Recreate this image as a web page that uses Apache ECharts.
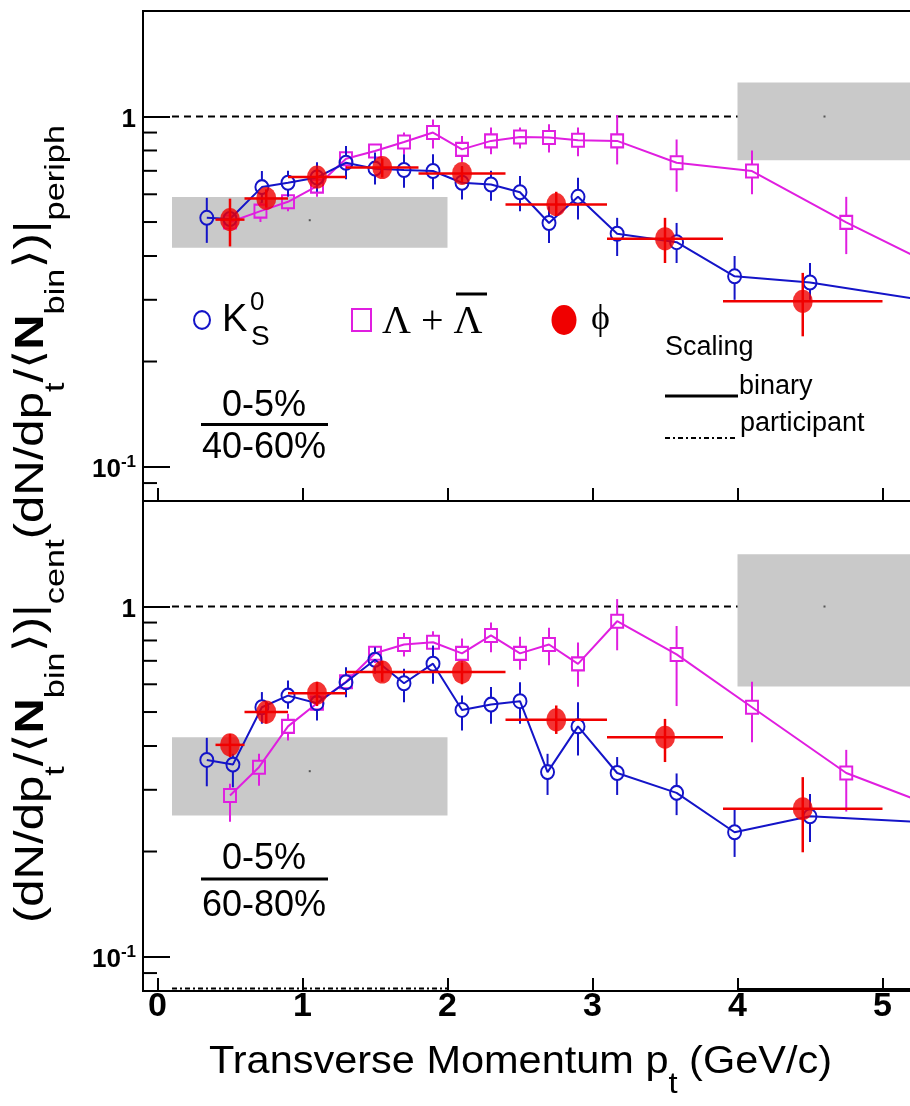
<!DOCTYPE html>
<html><head><meta charset="utf-8">
<script src="https://cdn.jsdelivr.net/npm/echarts@6/dist/echarts.min.js"></script>
<style>html,body{margin:0;padding:0;background:#fff}#c{width:910px;height:1106px}</style>
</head><body><div id="c"></div>
<script>
// ---------------- data ----------------
const xTickValues = [0, 1, 2, 3, 4, 5];
const xTickLabels = ['0', '1', '2', '3', '4', '5'];
const yMajorValues = [0.1, 1];
const yMajorLabels = [['10', '-1'], ['1', '']];
const yMinorTickValues = [0.09, 0.2, 0.3, 0.4, 0.5, 0.6, 0.7, 0.8, 0.9];

// top panel: 0-5% / 40-60%
const k0sTopPt = [0.34, 0.5, 0.72, 0.9, 1.1, 1.3, 1.5, 1.7, 1.9, 2.1, 2.3, 2.5, 2.7, 2.9, 3.17, 3.58, 3.98, 4.5, 5.5];
const k0sTopR  = [0.514, 0.51, 0.629, 0.647, 0.67, 0.738, 0.71, 0.704, 0.699, 0.647, 0.640, 0.608, 0.497, 0.590, 0.463, 0.438, 0.350, 0.336, 0.29];
const k0sTopLo = [0.436, 0.45, 0.567, 0.59, 0.61, 0.662, 0.64, 0.626, 0.62, 0.58, 0.575, 0.537, 0.436, 0.508, 0.40, 0.382, 0.30, 0.30, 0.26];
const k0sTopHi = [0.586, 0.58, 0.699, 0.70, 0.74, 0.824, 0.79, 0.78, 0.78, 0.722, 0.70, 0.676, 0.555, 0.669, 0.514, 0.497, 0.40, 0.382, 0.32];

const lamTopPt = [0.5, 0.71, 0.9, 1.1, 1.3, 1.5, 1.7, 1.9, 2.1, 2.3, 2.5, 2.7, 2.9, 3.17, 3.58, 4.1, 4.75, 5.5];
const lamTopR  = [0.50, 0.537, 0.571, 0.633, 0.758, 0.797, 0.846, 0.900, 0.806, 0.852, 0.874, 0.871, 0.856, 0.852, 0.738, 0.699, 0.499, 0.35];
const lamTopLo = [0.43, 0.50, 0.537, 0.59, 0.70, 0.74, 0.78, 0.81, 0.74, 0.78, 0.81, 0.79, 0.77, 0.73, 0.61, 0.60, 0.405, 0.28];
const lamTopHi = [0.56, 0.57, 0.60, 0.66, 0.82, 0.83, 0.90, 0.98, 0.88, 0.93, 0.93, 0.95, 0.93, 1.01, 0.86, 0.80, 0.59, 0.43];

const phiPt   = [0.5, 0.75, 1.1, 1.55, 2.1, 2.75, 3.5, 4.45];
const phiPtLo = [0.4, 0.6, 0.9, 1.3, 1.8, 2.4, 3.1, 3.9];
const phiPtHi = [0.6, 0.9, 1.3, 1.8, 2.4, 3.1, 3.9, 5.0];
const phiTopR  = [0.508, 0.584, 0.672, 0.715, 0.688, 0.561, 0.448, 0.297];
const phiTopLo = [0.426, 0.55, 0.64, 0.67, 0.65, 0.52, 0.382, 0.236];
const phiTopHi = [0.583, 0.62, 0.71, 0.76, 0.72, 0.61, 0.514, 0.358];

// bottom panel: 0-5% / 60-80%
const k0sBotPt = [0.34, 0.52, 0.72, 0.9, 1.1, 1.3, 1.5, 1.7, 1.9, 2.1, 2.3, 2.5, 2.69, 2.9, 3.17, 3.58, 3.98, 4.5, 5.5];
const k0sBotR  = [0.365, 0.354, 0.516, 0.557, 0.530, 0.608, 0.705, 0.604, 0.687, 0.507, 0.525, 0.537, 0.337, 0.455, 0.335, 0.294, 0.227, 0.252, 0.24];
const k0sBotLo = [0.307, 0.305, 0.463, 0.511, 0.473, 0.551, 0.643, 0.533, 0.602, 0.443, 0.463, 0.463, 0.29, 0.376, 0.29, 0.254, 0.193, 0.213, 0.21];
const k0sBotHi = [0.422, 0.38, 0.570, 0.615, 0.576, 0.671, 0.765, 0.664, 0.774, 0.557, 0.589, 0.608, 0.38, 0.533, 0.372, 0.334, 0.265, 0.292, 0.28];

const lamBotPt = [0.5, 0.7, 0.9, 1.1, 1.3, 1.5, 1.7, 1.9, 2.1, 2.3, 2.5, 2.7, 2.9, 3.17, 3.58, 4.1, 4.75, 5.5];
const lamBotR  = [0.289, 0.348, 0.455, 0.53, 0.61, 0.736, 0.779, 0.791, 0.735, 0.827, 0.735, 0.779, 0.686, 0.908, 0.730, 0.516, 0.335, 0.255];
const lamBotLo = [0.243, 0.308, 0.415, 0.49, 0.56, 0.69, 0.72, 0.73, 0.66, 0.74, 0.66, 0.68, 0.59, 0.75, 0.52, 0.41, 0.26, 0.21];
const lamBotHi = [0.312, 0.38, 0.494, 0.58, 0.66, 0.77, 0.84, 0.85, 0.81, 0.90, 0.82, 0.87, 0.79, 1.05, 0.88, 0.61, 0.39, 0.30];

const phiBotR  = [0.403, 0.50, 0.566, 0.650, 0.650, 0.475, 0.424, 0.265];
const phiBotLo = [0.372, 0.463, 0.52, 0.61, 0.60, 0.433, 0.36, 0.199];
const phiBotHi = [0.433, 0.533, 0.61, 0.70, 0.69, 0.522, 0.478, 0.326];

// scaling expectation boxes: [ptLow, ptHigh, ratioLow, ratioHigh, ratioCentre]
const scalingBoxTop = [[0.1, 2.0, 0.422, 0.589, 0.506], [4.0, 5.2, 0.75, 1.25, 1.0]];
const scalingBoxBot = [[0.1, 2.0, 0.2535, 0.424, 0.339], [4.0, 5.2, 0.591, 1.41, 1.0]];
// scaling marks along the bottom axis of lower panel: [ptLow, ptHigh, kind(0 participant,1 binary)]
const scalingMarksBot = [[0.1, 2.0, 0], [4.0, 5.5, 1]];
const unityLine = [[0.1, 5.5, 1]];

// ---------------- styling ----------------
const BLUE = '#1414c8', MAG = '#e01ee0', RED = '#f00000', GREY = '#c9c9c9';
const SANS = '"Liberation Sans", Arial, sans-serif';
const SERIF = '"Liberation Serif", "DejaVu Serif", serif';
const X_MIN = -0.1, X_MAX = 5.5, PX_UNIT = 145, GRID_LEFT = 143;
const GRID_W = (X_MAX - X_MIN) * PX_UNIT;
const Y_MIN = 0.08, Y_MAX = 2;

const zip4 = (a, b, c, d) => a.map((v, i) => [v, b[i], c[i], d[i]]);

function vErr(color, gap) {
  return function (params, api) {
    const x = api.value(0), y = api.value(1), lo = api.value(2), hi = api.value(3);
    const c = api.coord([x, y]), a = api.coord([x, hi]), b = api.coord([x, lo]);
    const st = { stroke: color, lineWidth: 2 };
    const ch = [];
    if (c[1] - gap > a[1]) ch.push({ type: 'line', shape: { x1: c[0], y1: a[1], x2: c[0], y2: c[1] - gap }, style: st });
    if (b[1] > c[1] + gap) ch.push({ type: 'line', shape: { x1: c[0], y1: c[1] + gap, x2: c[0], y2: b[1] }, style: st });
    return { type: 'group', children: ch };
  };
}
function phiErr(params, api) {
  const x = api.value(0), y = api.value(1), xl = api.value(2), xh = api.value(3), lo = api.value(4), hi = api.value(5);
  const c = api.coord([x, y]), l = api.coord([xl, y]), r = api.coord([xh, y]);
  const a = api.coord([x, hi]), b = api.coord([x, lo]);
  const st = { stroke: RED, lineWidth: 2.5 };
  return { type: 'group', children: [
    { type: 'line', shape: { x1: l[0], y1: c[1], x2: r[0], y2: c[1] }, style: st },
    { type: 'line', shape: { x1: c[0], y1: a[1], x2: c[0], y2: b[1] }, style: st }
  ] };
}
function boxRender(params, api) {
  const p1 = api.coord([api.value(0), api.value(3)]), p2 = api.coord([api.value(1), api.value(2)]);
  const pc = api.coord([(api.value(0) + api.value(1)) / 2, api.value(4)]);
  return { type: 'group', children: [
    { type: 'rect', shape: { x: p1[0], y: p1[1], width: p2[0] - p1[0], height: p2[1] - p1[1] }, style: { fill: GREY } },
    { type: 'rect', shape: { x: pc[0] - 1, y: pc[1] - 1, width: 2, height: 2 }, style: { fill: '#555' } }
  ] };
}
function unityRender(params, api) {
  const a = api.coord([api.value(0), api.value(2)]), b = api.coord([api.value(1), api.value(2)]);
  return { type: 'line', shape: { x1: a[0], y1: a[1], x2: b[0], y2: b[1] }, style: { stroke: '#000', lineWidth: 2, lineDash: [7, 5] } };
}
function minorRender(params, api) {
  const cs = params.coordSys;
  const p = api.coord([0, api.value(1)]);
  return { type: 'line', shape: { x1: cs.x, y1: p[1], x2: cs.x + 14, y2: p[1] }, style: { stroke: '#000', lineWidth: 2 } };
}
function marksRender(params, api) {
  const cs = params.coordSys;
  const a = api.coord([api.value(0), Y_MIN]), b = api.coord([api.value(1), Y_MIN]);
  const kind = api.value(2);
  const y = cs.y + cs.height - (kind === 0 ? 2.5 : 1);
  return { type: 'line', shape: { x1: a[0], y1: y, x2: b[0], y2: y },
    style: kind === 0 ? { stroke: '#000', lineWidth: 2, lineDash: [5, 3, 2, 3] } : { stroke: '#000', lineWidth: 4 } };
}

const panels = [
  { k: [k0sTopPt, k0sTopR, k0sTopLo, k0sTopHi], l: [lamTopPt, lamTopR, lamTopLo, lamTopHi],
    p: [phiTopR, phiTopLo, phiTopHi], boxes: scalingBoxTop, marks: [] },
  { k: [k0sBotPt, k0sBotR, k0sBotLo, k0sBotHi], l: [lamBotPt, lamBotR, lamBotLo, lamBotHi],
    p: [phiBotR, phiBotLo, phiBotHi], boxes: scalingBoxBot, marks: scalingMarksBot }
];

const grids = [], xAxes = [], yAxes = [], series = [];
panels.forEach((pn, i) => {
  grids.push({ left: GRID_LEFT, top: i === 0 ? 11 : 501, width: GRID_W, height: 490, show: true,
    outerBoundsMode: 'none', containLabel: false,
    borderColor: '#000', borderWidth: 2, backgroundColor: 'rgba(0,0,0,0)' });
  xAxes.push({ gridIndex: i, type: 'value', min: X_MIN, max: X_MAX,
    axisLine: { show: false, onZero: false }, splitLine: { show: false },
    axisTick: { inside: true, length: 13, customValues: xTickValues, lineStyle: { color: '#000', width: 2 } },
    axisLabel: i === 1 ? { customValues: xTickValues, formatter: v => xTickLabels[xTickValues.indexOf(v)],
      fontSize: 34, fontWeight: 'bold', fontFamily: SANS, color: '#000', margin: 3, lineHeight: 26 } : { show: false } });
  yAxes.push({ gridIndex: i, type: 'log', logBase: 10, min: Y_MIN, max: Y_MAX,
    axisLine: { show: false, onZero: false }, splitLine: { show: false }, minorTick: { show: false },
    axisTick: { inside: true, length: 27, lineStyle: { color: '#000', width: 2 } },
    axisLabel: { showMinLabel: false, showMaxLabel: false, margin: 7, color: '#000',
      formatter: v => {
        const j = yMajorValues.findIndex(t => Math.abs(t - v) < 1e-6 * t);
        if (j < 0) return '';
        const lab = yMajorLabels[j];
        return lab[1] ? '{b|' + lab[0] + '}{s|' + lab[1] + '}' : '{b|' + lab[0] + '}';
      },
      rich: { b: { fontSize: 26, fontWeight: 'bold', fontFamily: SANS, color: '#000', lineHeight: 30, padding: [5, 0, 0, 0], verticalAlign: 'top' },
              s: { fontSize: 17, fontWeight: 'bold', fontFamily: SANS, color: '#000', lineHeight: 17, padding: [2, 0, 0, 0], verticalAlign: 'top' } } } });

  const ax = { xAxisIndex: i, yAxisIndex: i };
  series.push(Object.assign({ type: 'custom', name: 'unity' + i, z: 1, silent: true, renderItem: unityRender,
    data: unityLine, encode: { x: [0, 1], y: 2 } }, ax));
  series.push(Object.assign({ type: 'custom', name: 'boxes' + i, z: 2, silent: true, renderItem: boxRender,
    data: pn.boxes, encode: { x: [0, 1], y: [2, 3] } }, ax));
  series.push(Object.assign({ type: 'custom', name: 'minor' + i, z: 10, silent: true, renderItem: minorRender,
    data: yMinorTickValues.map(v => [0, v]), encode: { x: 0, y: 1 } }, ax));
  if (pn.marks.length) series.push(Object.assign({ type: 'custom', name: 'marks' + i, z: 10, silent: true,
    renderItem: marksRender, data: pn.marks, encode: { x: [0, 1] } }, ax));
  // Lambda
  series.push(Object.assign({ type: 'custom', name: 'lamErr' + i, z: 3, renderItem: vErr(MAG, 7),
    data: zip4(pn.l[0], pn.l[1], pn.l[2], pn.l[3]), encode: { x: 0, y: 1 } }, ax));
  series.push(Object.assign({ type: 'line', name: 'Lambda' + i, z: 4, symbol: 'rect', symbolSize: [12, 13],
    lineStyle: { color: MAG, width: 2 }, itemStyle: { color: 'rgba(0,0,0,0)', borderColor: MAG, borderWidth: 2 },
    data: pn.l[0].map((x, j) => [x, pn.l[1][j]]) }, ax));
  // K0s
  series.push(Object.assign({ type: 'custom', name: 'kErr' + i, z: 5, renderItem: vErr(BLUE, 7),
    data: zip4(pn.k[0], pn.k[1], pn.k[2], pn.k[3]), encode: { x: 0, y: 1 } }, ax));
  series.push(Object.assign({ type: 'line', name: 'K0s' + i, z: 6, symbol: 'circle', symbolSize: [13, 14],
    lineStyle: { color: BLUE, width: 2 }, itemStyle: { color: 'rgba(0,0,0,0)', borderColor: BLUE, borderWidth: 2 },
    data: pn.k[0].map((x, j) => [x, pn.k[1][j]]) }, ax));
  // phi
  series.push(Object.assign({ type: 'custom', name: 'phiErr' + i, z: 7, renderItem: phiErr,
    data: phiPt.map((x, j) => [x, pn.p[0][j], phiPtLo[j], phiPtHi[j], pn.p[1][j], pn.p[2][j]]), encode: { x: 0, y: 1 } }, ax));
  series.push(Object.assign({ type: 'scatter', name: 'phi' + i, z: 8, symbol: 'circle', symbolSize: [20, 23],
    itemStyle: { color: RED }, data: phiPt.map((x, j) => [x, pn.p[0][j]]) }, ax));
});

// ---------------- text measurement for stretched titles ----------------
const mctx = document.createElement('canvas').getContext('2d');
function tw(size, family, weight, s) { mctx.font = (weight || 'normal') + ' ' + size + 'px ' + family; return mctx.measureText(s).width; }

const yRich = {
  m: { fontSize: 40, fontFamily: SANS, fill: '#000', lineHeight: 44, verticalAlign: 'top' },
  N: { fontSize: 40, fontFamily: SANS, fontWeight: 'bold', fill: '#000', lineHeight: 44, verticalAlign: 'top' },
  a: { fontSize: 40, fontFamily: '"DejaVu Sans", "Noto Sans", sans-serif', fill: '#000', lineHeight: 44, verticalAlign: 'top' },
  s: { fontSize: 28, fontFamily: SANS, fill: '#000', lineHeight: 28, padding: [30, 0, 0, 0], verticalAlign: 'top' }
};
const yParts = [['m', '(dN/dp'], ['s', 't'], ['m', '/'], ['a', '\u27E8'], ['N', 'N'], ['s', 'bin'], ['a', '\u27E9'], ['m', ')|'], ['s', 'cent'],
                ['m', '(dN/dp'], ['s', 't'], ['m', '/'], ['a', '\u27E8'], ['N', 'N'], ['s', 'bin'], ['a', '\u27E9'], ['m', ')|'], ['s', 'periph']];
let yW = 0;
yParts.forEach(p => { const r = yRich[p[0]]; yW += tw(r.fontSize, r.fontFamily, r.fontWeight, p[1]); });
const yText = yParts.map(p => '{' + p[0] + '|' + p[1] + '}').join('');

const xRich = {
  m: { fontSize: 38, fontFamily: SANS, fill: '#000', lineHeight: 44, verticalAlign: 'top' },
  s: { fontSize: 30, fontFamily: SANS, fill: '#000', lineHeight: 30, padding: [26, 0, 0, 0], verticalAlign: 'top' }
};
const xParts = [['m', 'Transverse Momentum p'], ['s', 't'], ['m', ' (GeV/c)']];
let xW = 0;
xParts.forEach(p => { const r = xRich[p[0]]; xW += tw(r.fontSize, r.fontFamily, r.fontWeight, p[1]); });
const xText = xParts.map(p => '{' + p[0] + '|' + p[1] + '}').join('');

function txt(x, y, text, size, family, extra) {
  return Object.assign({ type: 'text', x: x, y: y, z: 50,
    style: Object.assign({ text: text, fontSize: size, fontFamily: family || SANS, fill: '#000', align: 'left', verticalAlign: 'middle' }, extra || {}) });
}
function hline(x1, x2, y, w, dash) {
  return { type: 'line', z: 50, shape: { x1: x1, y1: y, x2: x2, y2: y }, style: { stroke: '#000', lineWidth: w, lineDash: dash || null } };
}

const graphics = [
  // legend
  { type: 'circle', x: 202, y: 320, scaleY: 1.1, z: 50, shape: { cx: 0, cy: 0, r: 8 }, style: { fill: 'rgba(0,0,0,0)', stroke: BLUE, lineWidth: 2 } },
  txt(222, 321, 'K', 38),
  txt(250, 303, '0', 26),
  txt(251, 337, 'S', 28),
  { type: 'rect', z: 50, shape: { x: 352, y: 309, width: 19, height: 22 }, style: { fill: 'rgba(0,0,0,0)', stroke: MAG, lineWidth: 2 } },
  txt(382, 322, '\u039B + \u039B', 40, SERIF),
  hline(456, 487, 294, 3),
  { type: 'circle', x: 564, y: 320, scaleY: 1.2, z: 50, shape: { cx: 0, cy: 0, r: 12.5 }, style: { fill: RED } },
  txt(591, 320, '\u03D5', 36, SERIF),
  // scaling legend
  txt(665, 348, 'Scaling', 27),
  txt(739, 386.5, 'binary', 27),
  hline(665, 738, 396, 3),
  txt(740, 424, 'participant', 27),
  hline(665, 735, 438, 2, [5, 3, 2, 3]),
  // centrality fractions
  txt(264, 406, '0-5%', 36, SANS, { align: 'center' }),
  hline(201, 328, 424.5, 3),
  txt(264, 448, '40-60%', 36, SANS, { align: 'center' }),
  txt(264, 859, '0-5%', 36, SANS, { align: 'center' }),
  hline(201, 328, 879, 3),
  txt(264, 906, '60-80%', 36, SANS, { align: 'center' }),
  // axis titles
  { type: 'text', x: 520.5, y: 1066, scaleX: 623 / xW, z: 50,
    style: { text: xText, rich: xRich, align: 'center', verticalAlign: 'middle', fill: '#000' } },
  { type: 'text', x: 34, y: 524, rotation: Math.PI / 2, scaleX: 798 / yW, z: 50,
    style: { text: yText, rich: yRich, align: 'center', verticalAlign: 'middle', fill: '#000' } }
];

const chart = echarts.init(document.getElementById('c'), null, { renderer: 'canvas', width: 910, height: 1106 });
chart.setOption({
  animation: false,
  backgroundColor: '#fff',
  grid: grids, xAxis: xAxes, yAxis: yAxes, series: series,
  graphic: graphics
});
</script>
</body></html>
